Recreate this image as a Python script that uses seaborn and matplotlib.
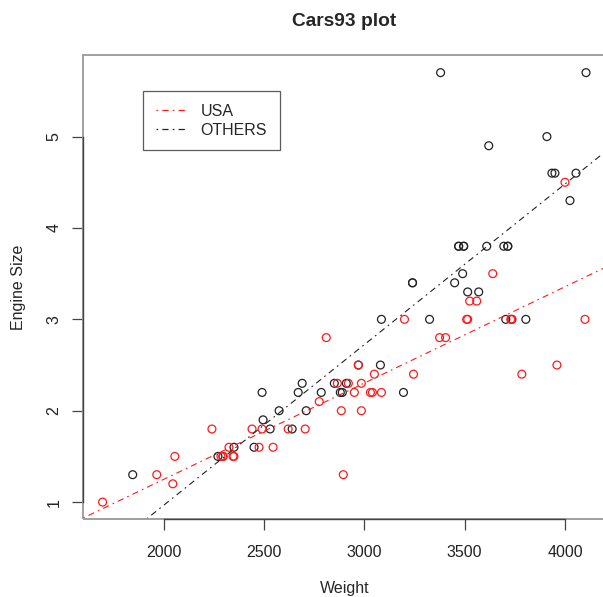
import numpy as np
import pandas as pd
import matplotlib
matplotlib.use("Agg")
import matplotlib.pyplot as plt
from matplotlib.lines import Line2D
from matplotlib.patches import Rectangle
import seaborn as sns

# ---- data (Cars93: Weight vs EngineSize), grouped as coloured in the chart ----
# red series (legend label "USA")
weight_usa = [2705, 3560, 3375, 3405, 3640, 1695, 2475, 2865, 2350, 3040,
              2345, 2620, 2285, 2885, 4000, 3510, 3515, 2325, 2440, 2970,
              3735, 2895, 2920, 3525, 2295, 3730, 2545, 3050, 4100, 3200,
              2775, 2045, 2490, 3085, 1965, 2055, 2950, 3030, 3785, 2240,
              3960, 2985, 2810, 2985, 3245]
engine_usa = [1.8, 3.2, 2.8, 2.8, 3.5, 1.0, 1.6, 2.3, 1.5, 2.2,
              1.5, 1.8, 1.5, 2.0, 4.5, 3.0, 3.0, 1.6, 1.8, 2.5,
              3.0, 1.3, 2.3, 3.2, 1.5, 3.0, 1.6, 2.4, 3.0, 3.0,
              2.1, 1.2, 1.8, 2.2, 1.3, 1.5, 2.2, 2.2, 2.4, 1.8,
              2.5, 2.0, 2.8, 2.3, 2.4]
# black series (legend label "OTHERS")
weight_oth = [2880, 3470, 4105, 3495, 3620, 3935, 2490, 2785, 3240, 3195,
              3715, 4025, 3910, 3380, 3515, 3085, 3570, 2270, 2670, 2970,
              3705, 3080, 3805, 2295, 3490, 1845, 2530, 2690, 2850, 2710,
              3735, 3325, 3950, 3695, 4055, 2450, 3610, 2910, 2890, 3715,
              3470, 2640, 2350, 2575, 3240, 3450, 3495, 2495]
engine_oth = [2.2, 3.8, 5.7, 3.8, 4.9, 4.6, 2.2, 2.2, 3.4, 2.2,
              3.8, 4.3, 5.0, 5.7, 3.3, 3.0, 3.3, 1.5, 2.2, 2.5,
              3.0, 2.5, 3.0, 1.5, 3.5, 1.3, 1.8, 2.3, 2.3, 2.0,
              3.0, 3.0, 4.6, 3.8, 4.6, 1.6, 3.8, 2.3, 2.2, 3.8,
              3.8, 1.8, 1.6, 2.0, 3.4, 3.4, 3.8, 1.9]
labels = ["USA", "OTHERS"]
x_ticks = [2000, 2500, 3000, 3500, 4000]
y_ticks = [1, 2, 3, 4, 5]

df_usa = pd.DataFrame({"Weight": weight_usa, "EngineSize": engine_usa})
df_oth = pd.DataFrame({"Weight": weight_oth, "EngineSize": engine_oth})

sns.set_style("ticks")
plt.rcParams["font.family"] = ["Liberation Sans", "DejaVu Sans"]
plt.rcParams["lines.scale_dashes"] = False

RED = "#ff1a1a"
BLK = "#222222"
dash = (0, (1.2, 3.0, 4.5, 3.0))

fig = plt.figure(figsize=(6.03, 5.97), dpi=100)
ax = fig.add_axes([0.1381, 0.1302, 0.8658, 0.7769])

allw = weight_usa + weight_oth
alle = engine_usa + engine_oth
xr = max(allw) - min(allw)
yr = max(alle) - min(alle)
xlim = (min(allw) - 0.04 * xr, max(allw) + 0.04 * xr)
ylim = (min(alle) - 0.04 * yr, max(alle) + 0.04 * yr)
ax.set_xlim(*xlim)
ax.set_ylim(*ylim)

sns.scatterplot(data=df_oth, x="Weight", y="EngineSize", ax=ax, marker="o",
                s=32, facecolor="none", edgecolor=BLK, linewidth=0.9, legend=False)
sns.scatterplot(data=df_usa, x="Weight", y="EngineSize", ax=ax, marker="o",
                s=32, facecolor="none", edgecolor=RED, linewidth=0.9, legend=False)

ax.set_xlim(*xlim)
ax.set_ylim(*ylim)
sns.regplot(data=df_usa, x="Weight", y="EngineSize", ax=ax, scatter=False,
            ci=None, truncate=False, color=RED,
            line_kws=dict(lw=0.8, linestyle=dash))
ax.set_xlim(*xlim)
ax.set_ylim(*ylim)
sns.regplot(data=df_oth, x="Weight", y="EngineSize", ax=ax, scatter=False,
            ci=None, truncate=False, color=BLK,
            line_kws=dict(lw=0.8, linestyle=dash))
ax.set_xlim(*xlim)
ax.set_ylim(*ylim)

# axes styling (R-like: gray box, dark axis lines between first and last tick)
ax.set_xticks(x_ticks)
ax.set_yticks(y_ticks)
for s in ["top", "right"]:
    ax.spines[s].set_visible(False)
ax.spines["left"].set_bounds(y_ticks[0], y_ticks[-1])
ax.spines["bottom"].set_bounds(x_ticks[0], x_ticks[-1])
for s in ["left", "bottom"]:
    ax.spines[s].set_color("#444444")
    ax.spines[s].set_linewidth(1.0)
    ax.spines[s].set_zorder(3)
ax.add_patch(Rectangle((0, 0), 1, 1, transform=ax.transAxes, fill=False,
                       ec="#999999", lw=1.3, clip_on=False, zorder=2))
ax.tick_params(axis="both", length=7.6, width=0.9, color="#444444",
               labelsize=11.5, labelcolor="#222222")
ax.tick_params(axis="x", pad=11)
ax.tick_params(axis="y", pad=8)
for t in ax.get_yticklabels():
    t.set_rotation(90)
    t.set_va("center")

ax.set_xlabel("Weight", fontsize=11.5, labelpad=15)
ax.set_ylabel("Engine Size", fontsize=11.5, labelpad=15)
ax.set_title("Cars93 plot", fontsize=13.8, fontweight="bold", pad=21.5)

handles = [Line2D([], [], color=RED, lw=0.9, linestyle=dash),
           Line2D([], [], color=BLK, lw=0.9, linestyle=dash)]
leg = ax.legend(handles, labels, loc="upper left",
                bbox_to_anchor=(0.1143, 0.9235), borderaxespad=0,
                fancybox=False, frameon=True, edgecolor="#333333",
                fontsize=11.5, handlelength=1.9, handletextpad=0.9,
                borderpad=0.8, labelspacing=0.25)
leg.get_frame().set_linewidth(0.9)

fig.savefig("out.png", dpi=100)
